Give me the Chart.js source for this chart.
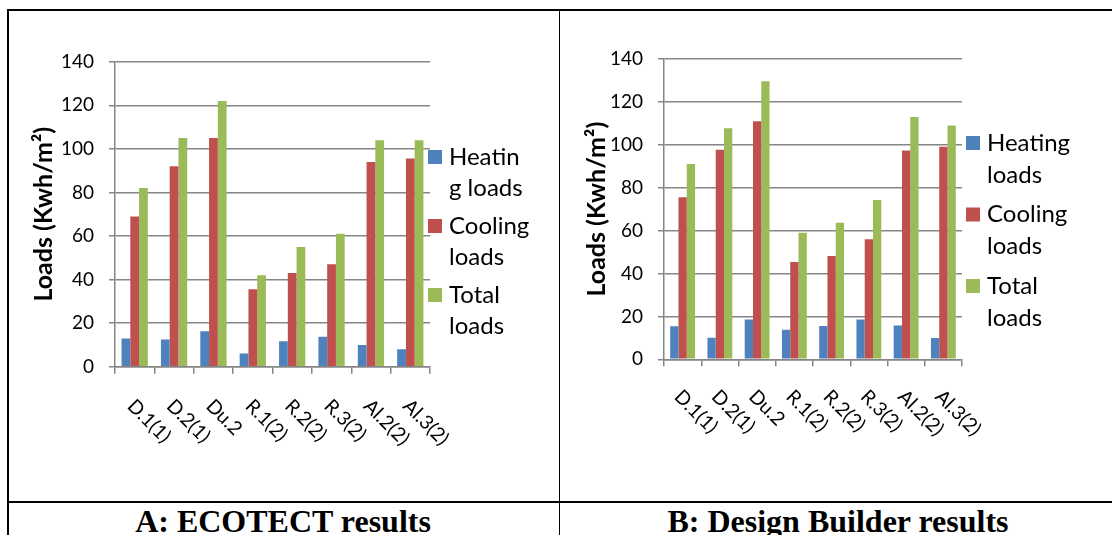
<!DOCTYPE html>
<html>
<head>
<meta charset="utf-8">
<title>Loads comparison</title>
<script src="https://cdn.jsdelivr.net/npm/chart.js@4.4.1/dist/chart.umd.min.js"></script>
<style>
    html, body { margin: 0; padding: 0; background: #fff; }
    body { width: 1112px; height: 535px; position: relative; overflow: hidden; }
    .rule { position: absolute; background: #000; }
    .chart-box { position: absolute; }
    .caption {
        position: absolute;
        font-family: "Liberation Serif", "Times New Roman", serif;
        font-weight: bold;
        font-size: 32px;
        line-height: 32px;
        text-align: center;
        color: #000;
        white-space: nowrap;
    }
</style>
</head>
<body>
    <!-- table rules -->
    <div class="rule" style="left:7px; top:9px; width:1105px; height:1.5px;"></div>
    <div class="rule" style="left:7px; top:9px; width:1.5px; height:526px;"></div>
    <div class="rule" style="left:558.5px; top:9px; width:1.5px; height:526px;"></div>
    <div class="rule" style="left:7px; top:501px; width:1105px; height:1.5px;"></div>

    <div class="chart-box" style="left:8px; top:11px;"><canvas id="chartA" width="551" height="490"></canvas></div>
    <div class="chart-box" style="left:561px; top:11px;"><canvas id="chartB" width="551" height="490"></canvas></div>

    <div class="caption" style="left:7px; width:552px; top:505px;">A: ECOTECT results</div>
    <div class="caption" style="left:559px; width:558px; top:505px;">B: Design Builder results</div>

<script>
/* ---------- data ---------- */
const categories = ['D.1(1)', 'D.2(1)', 'Du.2', 'R.1(2)', 'R.2(2)', 'R.3(2)', 'Al.2(2)', 'Al.3(2)'];

// A: ECOTECT
const ecotectHeating = [13, 12.5, 16.3, 6.1, 11.7, 13.7, 10, 8];
const ecotectCooling = [69, 92, 105, 35.5, 43, 47, 94, 95.6];
const ecotectTotal   = [82, 105, 122, 42, 55, 61, 104, 104];

// B: Design Builder
const dbHeating = [15.4, 10, 18.6, 13.8, 15.5, 18.5, 15.8, 9.9];
const dbCooling = [75.5, 97.7, 111, 45.4, 48.2, 56, 97.4, 99.1];
const dbTotal   = [91, 107.7, 129.6, 59, 63.7, 74.3, 113, 109];

const yTicks = [0, 20, 40, 60, 80, 100, 120, 140];
const yTitle = 'Loads (Kwh/m²)';

const legendA = [['Heatin', 'g loads'], ['Cooling', 'loads'], ['Total', 'loads']];
const legendB = [['Heating', 'loads'], ['Cooling', 'loads'], ['Total', 'loads']];

/* ---------- style ---------- */
const COLORS = ['#4F81BD', '#C0504D', '#9BBB59'];
const GRID = '#868686';
const FONT = 'Lato, "Open Sans", sans-serif';

// draws the wrapped legend and the slanted category labels
const excelBits = {
    id: 'excelBits',
    afterDraw(chart, args, opts) {
        const ctx = chart.ctx;
        const xs = chart.scales.x;
        const bottom = chart.chartArea.bottom;

        ctx.save();
        ctx.fillStyle = '#000';
        ctx.font = '19.5px ' + FONT;
        ctx.textAlign = 'left';
        ctx.textBaseline = 'middle';
        categories.forEach((c, i) => {
            const px = xs.getPixelForValue(i);
            ctx.save();
            ctx.translate(px + opts.labelDx, bottom + opts.labelDy);
            ctx.rotate(Math.PI / 4);
            ctx.fillText(c, 0, 0);
            ctx.restore();
        });

        const lg = opts.legend;
        ctx.font = '24px ' + FONT;
        lg.items.forEach((lines, i) => {
            const cy = lg.y + i * lg.itemGap;
            ctx.fillStyle = COLORS[i];
            ctx.fillRect(lg.x, cy - 7, 14, 14);
            ctx.fillStyle = '#000';
            lines.forEach((t, j) => ctx.fillText(t, lg.textX, cy + j * lg.lineGap));
        });
        ctx.restore();
    }
};

function makeChart(id, series, geo) {
    return new Chart(document.getElementById(id), {
        type: 'bar',
        data: {
            labels: categories,
            datasets: series.map((d, i) => ({
                data: d,
                backgroundColor: COLORS[i],
                borderWidth: 0,
                categoryPercentage: 0.667,
                barPercentage: 1
            }))
        },
        options: {
            responsive: false,
            animation: false,
            layout: { padding: { left: 0, right: geo.padRight, top: geo.padTop, bottom: 0 } },
            plugins: {
                legend: { display: false },
                tooltip: { enabled: false },
                excelBits: geo.bits
            },
            scales: {
                x: {
                    grid: { offset: true, drawOnChartArea: false, color: GRID, lineWidth: 1.5, tickLength: 7 },
                    border: { color: GRID, width: 1.5 },
                    ticks: { display: false },
                    afterFit: s => { s.height = geo.xHeight; }
                },
                y: {
                    min: yTicks[0],
                    max: yTicks[yTicks.length - 1],
                    ticks: { stepSize: 20, color: '#000', padding: 15, font: { family: FONT, size: 19 } },
                    grid: { color: GRID, lineWidth: 1.5, tickLength: 6 },
                    border: { color: GRID, width: 1.5 },
                    title: {
                        display: true,
                        text: yTitle,
                        color: '#000',
                        font: { family: FONT, size: 25, weight: 'bold' },
                        padding: { top: 21, bottom: 0 }
                    },
                    afterFit: s => { s.width = geo.yWidth; }
                }
            }
        },
        plugins: [excelBits]
    });
}

makeChart('chartA', [ecotectHeating, ecotectCooling, ecotectTotal], {
    padRight: 129, padTop: 50.7, xHeight: 134.3, yWidth: 107,
    bits: {
        labelDx: -4, labelDy: 36,
        legend: { items: legendA, x: 420, y: 146, textX: 441, lineGap: 31, itemGap: 69 }
    }
});

makeChart('chartB', [dbHeating, dbCooling, dbTotal], {
    padRight: 150, padTop: 48, xHeight: 141.7, yWidth: 103,
    bits: {
        labelDx: -5, labelDy: 34,
        legend: { items: legendB, x: 405, y: 132, textX: 426, lineGap: 32, itemGap: 71.5 }
    }
});
</script>
</body>
</html>
